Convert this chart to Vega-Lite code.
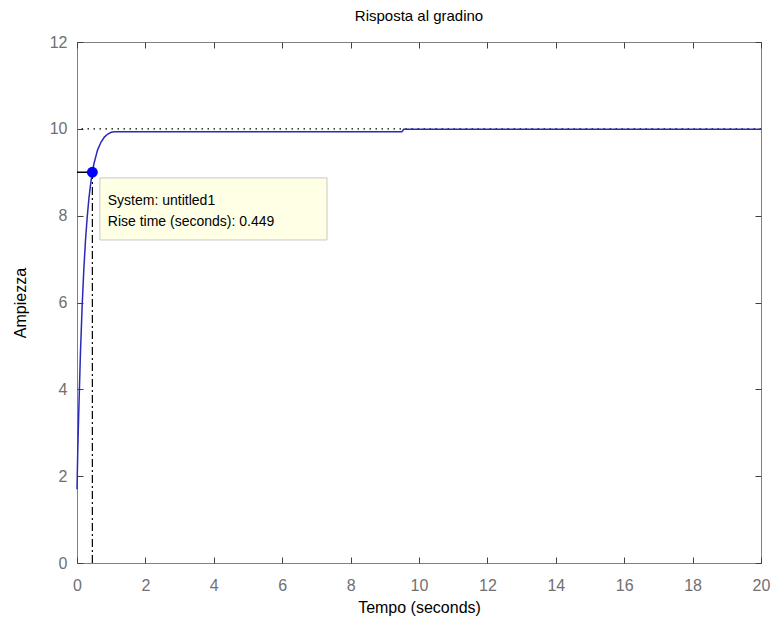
{
  "$schema": "https://vega.github.io/schema/vega-lite/v6.json",
  "width": 684,
  "height": 521,
  "autosize": "none",
  "padding": {"left": 77, "top": 42, "right": 11, "bottom": 65},
  "background": "white",
  "title": {"text": "Risposta al gradino", "font": "Liberation Sans", "fontSize": 15, "fontWeight": "normal", "color": "#000000", "offset": 10},
  "config": {
    "view": {"stroke": "#808080", "strokeWidth": 1},
    "axis": {"grid": false, "domain": false, "labelFlush": false, "labelOverlap": false, "tickColor": "#404040", "tickWidth": 1, "tickSize": -6, "labelFont": "Liberation Sans", "labelFontSize": 16, "labelColor": "#707070", "titleFont": "Liberation Sans", "titleFontSize": 16, "titleFontWeight": "normal", "titleColor": "#000000"}
  },
  "datasets": {
    "resp": [
      {"t": 0, "y": 1.7}, {"t": 0.02, "y": 2.5}, {"t": 0.05, "y": 3.44}, {"t": 0.1, "y": 4.82},
      {"t": 0.15, "y": 5.91}, {"t": 0.2, "y": 6.77}, {"t": 0.25, "y": 7.45}, {"t": 0.3, "y": 7.98},
      {"t": 0.35, "y": 8.41}, {"t": 0.4, "y": 8.74}, {"t": 0.449, "y": 9.0}, {"t": 0.5, "y": 9.21},
      {"t": 0.6, "y": 9.51}, {"t": 0.7, "y": 9.69}, {"t": 0.8, "y": 9.81}, {"t": 0.9, "y": 9.88},
      {"t": 1.0, "y": 9.92}, {"t": 1.1, "y": 9.93}, {"t": 1.5, "y": 9.93}, {"t": 9.5, "y": 9.93},
      {"t": 9.55, "y": 9.99}, {"t": 20, "y": 9.99}
    ],
    "box": [{"x1": 0.67, "x2": 7.31, "y1": 7.44, "y2": 8.87}],
    "labels": [
      {"x": 0.9, "y": 8.34, "text": "System: untitled1"},
      {"x": 0.9, "y": 7.86, "text": "Rise time (seconds): 0.449"}
    ],
    "rise": [{"t": 0.449, "y": 9.0, "t0": 0, "y0": 0}],
    "final": [{"y": 10}]
  },
  "resolve": {"axis": {"x": "independent", "y": "independent"}},
  "layer": [
    {
      "layer": [
        {
          "data": {"name": "final"},
          "mark": {"type": "rule", "color": "#000000", "strokeWidth": 1.2, "strokeDash": [1.5, 4.5]},
          "encoding": {
            "y": {"field": "y", "type": "quantitative", "scale": {"domain": [0, 12]}, "axis": {"title": "Ampiezza", "values": [0, 2, 4, 6, 8, 10, 12], "labelPadding": 16, "titlePadding": 21}}
          }
        },
        {
          "data": {"name": "rise"},
          "mark": {"type": "rule", "color": "#000000", "strokeWidth": 1.2, "strokeDash": [8, 3, 2, 3]},
          "encoding": {
            "x": {"field": "t", "type": "quantitative", "scale": {"domain": [0, 20]}, "axis": {"title": "Tempo (seconds)", "values": [0, 2, 4, 6, 8, 10, 12, 14, 16, 18, 20], "labelPadding": 20, "titlePadding": 6}},
            "y": {"field": "y0", "type": "quantitative"},
            "y2": {"field": "y"}
          }
        },
        {
          "data": {"name": "rise"},
          "mark": {"type": "rule", "color": "#000000", "strokeWidth": 1.5},
          "encoding": {
            "x": {"field": "t0", "type": "quantitative"},
            "x2": {"field": "t"},
            "y": {"field": "y", "type": "quantitative"}
          }
        },
        {
          "data": {"name": "resp"},
          "mark": {"type": "line", "color": "#2a2ab8", "strokeWidth": 1.5},
          "encoding": {
            "x": {"field": "t", "type": "quantitative"},
            "y": {"field": "y", "type": "quantitative"}
          }
        },
        {
          "data": {"name": "rise"},
          "mark": {"type": "point", "filled": true, "color": "#0000ff", "size": 120, "opacity": 1},
          "encoding": {
            "x": {"field": "t", "type": "quantitative"},
            "y": {"field": "y", "type": "quantitative"}
          }
        },
        {
          "data": {"name": "box"},
          "mark": {"type": "rect", "fill": "#ffffe6", "stroke": "#c8c8c0", "strokeWidth": 1},
          "encoding": {
            "x": {"field": "x1", "type": "quantitative"},
            "x2": {"field": "x2"},
            "y": {"field": "y1", "type": "quantitative"},
            "y2": {"field": "y2"}
          }
        },
        {
          "data": {"name": "labels"},
          "mark": {"type": "text", "align": "left", "baseline": "middle", "font": "Liberation Sans", "fontSize": 14, "color": "#000000"},
          "encoding": {
            "x": {"field": "x", "type": "quantitative"},
            "y": {"field": "y", "type": "quantitative"},
            "text": {"field": "text"}
          }
        }
      ]
    },
    {
      "data": {"name": "final"},
      "mark": {"type": "rule", "opacity": 0},
      "encoding": {
        "x": {"datum": 0, "type": "quantitative", "axis": {"orient": "top", "labels": false, "title": null, "values": [0, 2, 4, 6, 8, 10, 12, 14, 16, 18, 20]}},
        "y": {"field": "y", "type": "quantitative", "axis": {"orient": "right", "labels": false, "title": null, "values": [0, 2, 4, 6, 8, 10, 12]}}
      }
    }
  ]
}
